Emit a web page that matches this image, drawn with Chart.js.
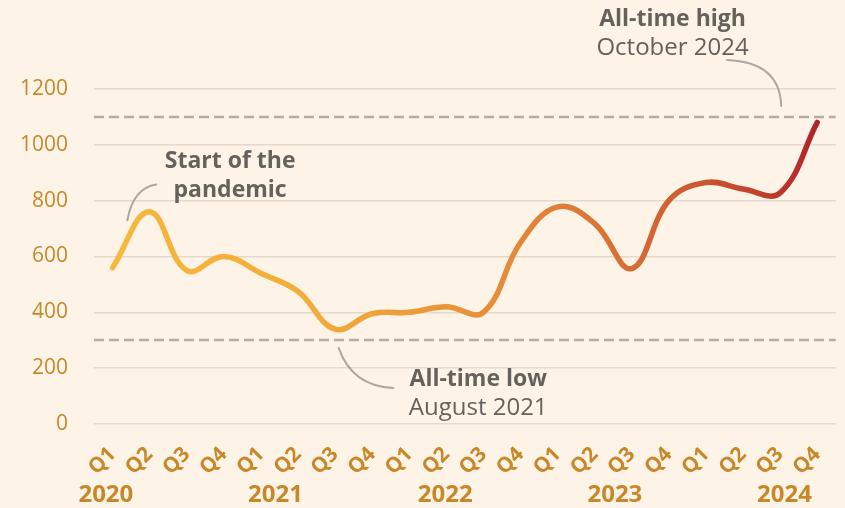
<!DOCTYPE html>
<html>
<head>
<meta charset="utf-8">
<script src="https://cdn.jsdelivr.net/npm/chart.js@4"></script>
<style>
  html, body { margin: 0; padding: 0; background: #fdf4e7; }
  #wrap { width: 845px; height: 508px; }
</style>
</head>
<body>
<div id="wrap"><canvas id="chart" width="845" height="508"></canvas></div>
<script>
// data
const quarters = ['Q1','Q2','Q3','Q4','Q1','Q2','Q3','Q4','Q1','Q2','Q3','Q4','Q1','Q2','Q3','Q4','Q1','Q2','Q3','Q4'];
const years = ['2020', '2021', '2022', '2023', '2024'];
const values = [560, 760, 550, 600, 540, 475, 340, 395, 400, 420, 400, 650, 778, 718, 557, 800, 865, 842, 828, 1080];
const yTicks = [0, 200, 400, 600, 800, 1000, 1200];
const refLines = [1100, 300];

const FONT = '"Open Sans", "Noto Sans", sans-serif';
const ORANGE = '#c8882a';
const GREY_TXT = '#65625d';

function lineGradient(context){
    const chart = context.chart;
    const area = chart.chartArea;
    if(!area){
        return '#f5b63c';
    }
    const g = chart.ctx.createLinearGradient(area.left, 0, area.right, 0);
    g.addColorStop(0, '#f6b93d');
    g.addColorStop(0.3, '#f2ac3a');
    g.addColorStop(0.55, '#e68c38');
    g.addColorStop(0.75, '#d46733');
    g.addColorStop(0.9, '#c0402d');
    g.addColorStop(1, '#ac1a2a');
    return g;
}

// dashed reference lines
const refLinePlugin = {
    id: 'refLines',
    beforeDatasetsDraw(chart){
        const ctx = chart.ctx;
        const area = chart.chartArea;
        const y = chart.scales.y;
        ctx.save();
        ctx.strokeStyle = '#b6ada1';
        ctx.lineWidth = 2.5;
        ctx.setLineDash([10, 5]);
        refLines.forEach(v => {
            const py = Math.round(y.getPixelForValue(v));
            ctx.beginPath();
            ctx.moveTo(area.left, py);
            ctx.lineTo(area.right, py);
            ctx.stroke();
        });
        ctx.restore();
    }
};

// year labels under the quarter labels
const yearPlugin = {
    id: 'years',
    afterDraw(chart){
        const ctx = chart.ctx;
        const x = chart.scales.x;
        ctx.save();
        ctx.fillStyle = ORANGE;
        ctx.font = 'bold 24px ' + FONT;
        ctx.textAlign = 'center';
        ctx.textBaseline = 'middle';
        years.forEach((yr, k) => {
            const px = x.getPixelForValue(-0.18 + k * 4.575);
            ctx.fillText(yr, px, 495);
        });
        ctx.restore();
    }
};

// annotations: text + curved connectors
const notePlugin = {
    id: 'notes',
    afterDraw(chart){
        const ctx = chart.ctx;
        const x = chart.scales.x;
        const y = chart.scales.y;
        const P = (i, v) => [x.getPixelForValue(i), y.getPixelForValue(v)];

        function curve(a, c, b){
            ctx.beginPath();
            ctx.moveTo(a[0], a[1]);
            ctx.quadraticCurveTo(c[0], c[1], b[0], b[1]);
            ctx.stroke();
        }
        function text(str, p, bold){
            ctx.font = bold ? 'bold 23px ' + FONT : '24px ' + FONT;
            ctx.fillText(str, p[0], p[1]);
        }

        ctx.save();
        ctx.strokeStyle = '#aca79f';
        ctx.lineWidth = 2;
        ctx.lineCap = 'round';
        // start of the pandemic
        curve(P(0.4, 730), [133, 188], P(1.18, 858));
        // all-time high
        curve(P(16.57, 1304), [780, 62], P(18.03, 1139));
        // all-time low
        curve(P(6.1, 272), [352, 386], P(7.57, 129));

        ctx.fillStyle = GREY_TXT;
        ctx.textAlign = 'center';
        ctx.textBaseline = 'middle';
        text('Start of the', P(3.17, 942), true);
        text('pandemic', P(3.17, 838), true);
        text('All-time high', P(15.1, 1450), true);
        text('October 2024', P(15.1, 1347), false);
        text('All-time low', P(9.86, 158), true);
        text('August 2021', P(9.86, 57), false);
        ctx.restore();
    }
};

const cfg = {
    type: 'line',
    data: {
        labels: quarters,
        datasets: [{
            data: values,
            borderColor: lineGradient,
            borderWidth: 5.5,
            borderCapStyle: 'round',
            borderJoinStyle: 'round',
            tension: 0.4,
            pointRadius: 0,
            fill: false
        }]
    },
    options: {
        responsive: false,
        animation: false,
        layout: { padding: { top: 89, right: 0, left: 0, bottom: 0 } },
        plugins: {
            legend: { display: false },
            tooltip: { enabled: false }
        },
        scales: {
            x: {
                offset: true,
                grid: { display: false },
                border: { display: false },
                ticks: {
                    color: ORANGE,
                    font: { family: FONT, size: 21, weight: 'bold' },
                    maxRotation: 45,
                    minRotation: 45,
                    autoSkip: false,
                    padding: 10
                },
                afterFit(scale){ scale.height = 84; }
            },
            y: {
                min: 0,
                max: 1200,
                afterBuildTicks(scale){
                    scale.ticks = yTicks.map(v => ({ value: v }));
                },
                grid: { color: '#e4dacb', lineWidth: 1.5, drawTicks: false },
                border: { display: false },
                ticks: {
                    color: ORANGE,
                    font: { family: FONT, size: 21 },
                    padding: 26,
                    callback: v => String(v)
                },
                afterFit(scale){ scale.width = 94; }
            }
        }
    },
    plugins: [refLinePlugin, yearPlugin, notePlugin]
};

const chart = new Chart(document.getElementById('chart'), cfg);
</script>
</body>
</html>
